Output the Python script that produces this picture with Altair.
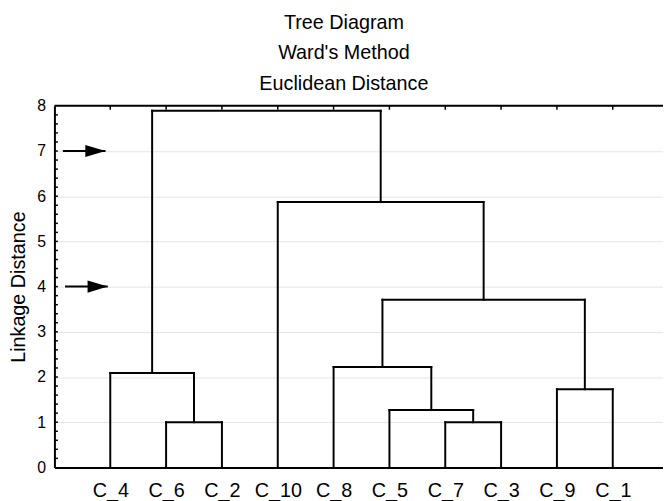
import altair as alt
import pandas as pd

# ---- data ----
leaves = ["C_4", "C_6", "C_2", "C_10", "C_8", "C_5", "C_7", "C_3", "C_9", "C_1"]
# each merge joins two members (leaf names, or "#k" = result of k-th merge) at a linkage distance
merge_left = ["C_6", "C_7", "C_5", "C_9", "C_4", "C_8", "#6", "C_10", "#5"]
merge_right = ["C_2", "C_3", "#2", "C_1", "#1", "#3", "#4", "#7", "#8"]
merge_height = [1.00, 1.00, 1.27, 1.73, 2.09, 2.22, 3.71, 5.87, 7.89]

y_ticks = [0, 1, 2, 3, 4, 5, 6, 7, 8]
minor_ticks = [round(i * 0.2, 1) for i in range(1, 40)]
arrow_level = [7, 4]
arrow_start = [0.15, 0.19]
arrow_end = [0.915, 0.955]

title_lines = ["Tree Diagram", "Ward's Method", "Euclidean Distance"]

FONT = "Liberation Sans"
W, H = 616, 366

# ---- build dendrogram segments ----
pos = {name: i + 1 for i, name in enumerate(leaves)}
hgt = {name: 0.0 for name in leaves}
segs = []
for k, (a, b, h) in enumerate(zip(merge_left, merge_right, merge_height), start=1):
    xa, ya = pos[a], hgt[a]
    xb, yb = pos[b], hgt[b]
    segs.append(dict(x=xa, x2=xa, y=ya, y2=h))
    segs.append(dict(x=xb, x2=xb, y=yb, y2=h))
    segs.append(dict(x=xa, x2=xb, y=h, y2=h))
    pos[f"#{k}"] = (xa + xb) / 2
    hgt[f"#{k}"] = h
seg_df = pd.DataFrame(segs)

xscale = alt.Scale(domain=[0, 10.9], nice=False, zero=False)
yscale = alt.Scale(domain=[0, 8], nice=False, zero=True)

label_expr = "[" + ",".join("'" + s + "'" for s in leaves) + "][datum.value - 1]"

dendro = alt.Chart(seg_df).mark_rule(color="black", strokeWidth=2, strokeCap="square").encode(
    x=alt.X("x:Q", scale=xscale, axis=alt.Axis(
        values=list(range(1, len(leaves) + 1)), labelExpr=label_expr, orient="bottom",
        ticks=False, tickSize=0, grid=False, domain=True, domainColor="black", domainWidth=2,
        labelFont=FONT, labelFontSize=20, labelColor="black", labelPadding=13,
        labelBaseline="top", title=None)),
    x2="x2:Q",
    y=alt.Y("y:Q", scale=yscale, axis=alt.Axis(
        values=y_ticks, ticks=False, tickSize=0, grid=True, gridColor="#e4e4e4", gridWidth=1,
        domain=True, domainColor="black", domainWidth=2,
        labelFont=FONT, labelFontSize=16, labelColor="black", labelPadding=9,
        title="Linkage Distance", titleFont=FONT, titleFontSize=20, titleFontWeight="normal",
        titleColor="black", titleAngle=270, titleX=-30, titleY=H / 2, titleBaseline="alphabetic",
        titleAlign="center")),
    y2="y2:Q",
)

top_line = alt.Chart(pd.DataFrame({"y": [8]})).mark_rule(color="black", strokeWidth=2).encode(
    y=alt.Y("y:Q", scale=yscale), x=alt.value(0), x2=alt.value(W))

top_ticks = alt.Chart(pd.DataFrame({"x": list(range(1, len(leaves) + 1))})).mark_rule(
    color="black", strokeWidth=1.5).encode(
    x=alt.X("x:Q", scale=xscale), y=alt.value(0), y2=alt.value(4))

left_ticks = alt.Chart(pd.DataFrame({"y": minor_ticks})).mark_rule(
    color="black", strokeWidth=1.5).encode(
    y=alt.Y("y:Q", scale=yscale), x=alt.value(0), x2=alt.value(3.5))

arrow_df = pd.DataFrame({"lvl": arrow_level, "s": arrow_start, "e": arrow_end})
shafts = alt.Chart(arrow_df).mark_rule(color="black", strokeWidth=2).encode(
    x=alt.X("s:Q", scale=xscale), x2="e:Q", y=alt.Y("lvl:Q", scale=yscale))
heads = alt.Chart(arrow_df).mark_point(
    shape="M-1,-0.6L1,0L-1,0.6Z", filled=True, color="black", opacity=1, size=420, xOffset=-10.2
).encode(x=alt.X("e:Q", scale=xscale), y=alt.Y("lvl:Q", scale=yscale))

chart = alt.layer(dendro, top_line, top_ticks, left_ticks, shafts, heads).properties(
    width=W, height=H,
    padding={"left": 47, "top": 96, "right": 0, "bottom": 31},
    autosize=alt.AutoSizeParams(type="none"),
    title=alt.TitleParams(text=title_lines, font=FONT, fontSize=20, fontWeight="normal",
                          color="black", lineHeight=31, anchor="middle", baseline="bottom",
                          offset=-16, dx=-15),
).configure_view(stroke=None)

chart.save("out.html", embed_options={"renderer": "svg", "actions": False})
